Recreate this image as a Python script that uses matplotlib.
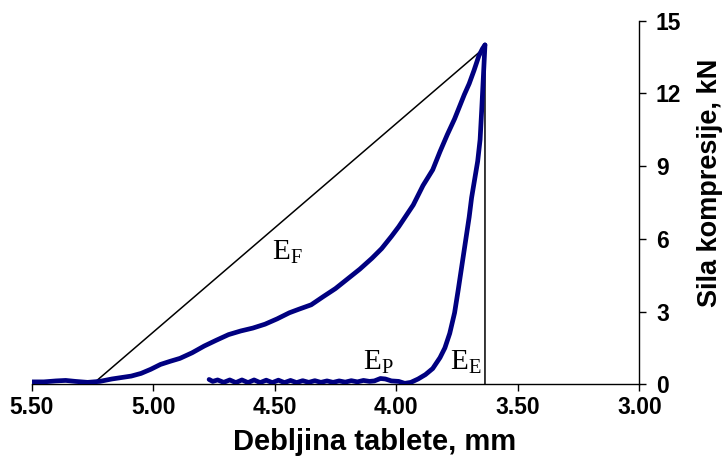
import matplotlib.pyplot as plt

# Loading (compression) branch
load_x = [5.50, 5.45, 5.40, 5.36, 5.32, 5.27, 5.22, 5.17, 5.13, 5.09, 5.05, 5.01,
          4.97, 4.93, 4.89, 4.84, 4.79, 4.74, 4.69, 4.64, 4.59, 4.54, 4.49, 4.44,
          4.40, 4.35, 4.30, 4.25, 4.20, 4.15, 4.10, 4.06, 4.02, 3.99, 3.96, 3.93,
          3.89, 3.85, 3.82, 3.79, 3.76, 3.74, 3.72, 3.70, 3.68, 3.66, 3.645, 3.635]
load_y = [0.10, 0.10, 0.14, 0.16, 0.12, 0.08, 0.12, 0.22, 0.28, 0.34, 0.45, 0.62,
          0.82, 0.95, 1.07, 1.30, 1.58, 1.82, 2.05, 2.20, 2.32, 2.48, 2.70, 2.95,
          3.10, 3.28, 3.62, 3.95, 4.35, 4.75, 5.20, 5.60, 6.10, 6.50, 6.95, 7.40,
          8.20, 8.85, 9.60, 10.30, 10.95, 11.45, 11.95, 12.40, 12.95, 13.55, 13.85, 14.00]

# Unloading (decompression) branch
unload_x = [3.635, 3.638, 3.642, 3.648, 3.655, 3.665, 3.675, 3.69, 3.70, 3.715,
            3.73, 3.745, 3.76, 3.78, 3.80, 3.82, 3.85, 3.88, 3.91, 3.94, 3.965,
            3.99, 4.02, 4.045, 4.065, 4.09]
unload_y = [14.00, 13.40, 12.60, 11.40, 10.10, 9.20, 8.60, 7.70, 6.90, 5.90,
            4.90, 3.90, 2.95, 2.10, 1.50, 1.10, 0.65, 0.40, 0.22, 0.08, 0.04,
            0.12, 0.14, 0.22, 0.24, 0.14]

# wavy flat part at the end of unloading
flat_x = [4.11, 4.135, 4.16, 4.185, 4.21, 4.235, 4.26, 4.285, 4.31, 4.335,
          4.36, 4.385, 4.41, 4.435, 4.46, 4.485, 4.51, 4.535, 4.56, 4.585,
          4.61, 4.635, 4.66, 4.685, 4.71, 4.735, 4.755, 4.77]
flat_y = [0.12, 0.16, 0.10, 0.15, 0.09, 0.14, 0.08, 0.14, 0.08, 0.15,
          0.08, 0.15, 0.07, 0.16, 0.07, 0.17, 0.07, 0.17, 0.07, 0.18,
          0.07, 0.18, 0.07, 0.18, 0.08, 0.18, 0.12, 0.20]

# energy triangle: start of loading -> peak -> down to axis
tri_x = [5.25, 3.635, 3.635]
tri_y = [0.0, 13.9, 0.0]

x_ticks = [5.5, 5.0, 4.5, 4.0, 3.5, 3.0]
y_ticks = [0, 3, 6, 9, 12, 15]

labels = ['E', 'E', 'E']
subs = ['F', 'P', 'E']
label_x = [4.513, 4.136, 3.78]
label_y = [5.17, 0.62, 0.62]

plt.rcParams['font.family'] = ['Liberation Sans', 'DejaVu Sans']
plt.rcParams['mathtext.fontset'] = 'custom'
plt.rcParams['mathtext.rm'] = 'Liberation Serif'

fig = plt.figure(figsize=(7.25, 4.58), dpi=100)
ax = fig.add_axes([0.0437, 0.1609, 0.8381, 0.7939])

navy = '#000080'
ax.plot(tri_x, tri_y, color='black', lw=1.1, zorder=2)
ax.plot(load_x, load_y, color=navy, lw=3.4, solid_capstyle='round', zorder=3)
ax.plot(unload_x + flat_x, unload_y + flat_y, color=navy, lw=3.4,
        solid_capstyle='round', zorder=3)

for t, s, x, y in zip(labels, subs, label_x, label_y):
    ax.text(x, y, t + r'$_\mathrm{' + s + '}$', family='Liberation Serif',
            fontsize=21, ha='left', va='baseline')

ax.set_xlim(5.5, 3.0)
ax.set_ylim(0, 15)
ax.set_xticks(x_ticks)
ax.set_xticklabels(['%.2f' % v for v in x_ticks])
ax.set_yticks(y_ticks)

# only bottom and right axis lines
ax.spines['top'].set_visible(False)
ax.spines['left'].set_visible(False)
ax.spines['right'].set_linewidth(1.0)
ax.spines['bottom'].set_linewidth(1.0)
ax.yaxis.tick_right()
ax.tick_params(axis='both', direction='out', length=5, width=1.0,
               labelsize=16.5)
ax.tick_params(axis='y', pad=7)
for lbl in ax.get_xticklabels() + ax.get_yticklabels():
    lbl.set_fontweight('bold')

# axis titles placed where they sit in the original
fig.text(0.516, 0.035, 'Debljina tablete, mm', fontsize=21, fontweight='bold',
         ha='center', va='center')
fig.text(0.979, 0.60, 'Sila kompresije, kN', fontsize=19.5, fontweight='bold',
         ha='center', va='center', rotation=90)

fig.savefig('out.png', dpi=100)
